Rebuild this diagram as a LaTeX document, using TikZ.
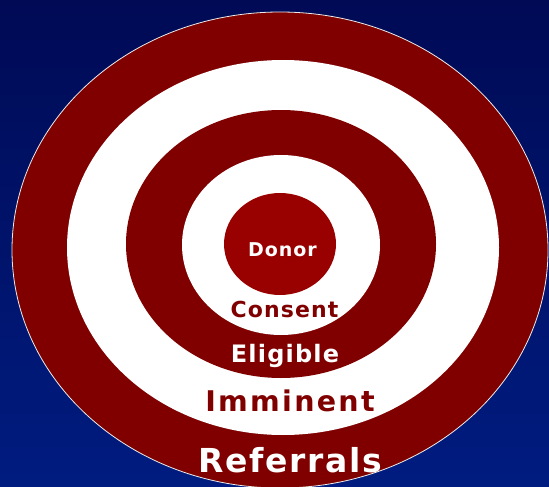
\documentclass[tikz,border=0pt]{standalone}
\usepackage{fontspec}
\newfontfamily\lblfont{DejaVu Sans}[LetterSpace=5]
\definecolor{bgtop}{RGB}{0,10,85}
\definecolor{bgbot}{RGB}{0,28,128}
\definecolor{ringred}{RGB}{128,0,0}
\definecolor{donorred}{RGB}{153,0,0}
\tikzset{
  lbl/.style={anchor=base, inner sep=0pt, font=\lblfont\bfseries},
}
\begin{document}
\begin{tikzpicture}[x=1pt,y=-1pt]
\useasboundingbox (0,0) rectangle (549,487);
\shade[top color=bgtop, bottom color=bgbot] (0,0) rectangle (549,487);
% rings
\fill[ringred, draw=white!85!gray, line width=0.8pt] (280,250) ellipse [x radius=268pt, y radius=238pt];
\fill[white] (283,247.5) ellipse [x radius=216pt, y radius=187.5pt];
\fill[ringred] (281,244) ellipse [x radius=155pt, y radius=134pt];
\fill[white] (281,245) ellipse [x radius=99pt, y radius=90pt];
\fill[donorred] (280,244) ellipse [x radius=56pt, y radius=51pt];
% labels
\node[lbl, text=white, font=\lblfont\bfseries\fontsize{19}{21}\selectfont] (donor) at (282.5,256) {Donor};
\node[lbl, text=ringred, font=\lblfont\bfseries\fontsize{22}{24}\selectfont] (consent) at (284.5,317) {Consent};
\node[lbl, text=white, font=\lblfont\bfseries\fontsize{24}{26}\selectfont] (eligible) at (285,362) {Eligible};
\node[lbl, text=ringred, font=\lblfont\bfseries\fontsize{28.5}{30}\selectfont\addfontfeatures{LetterSpace=8}] (imminent) at (290,411) {Imminent};
\node[lbl, text=white, font=\lblfont\bfseries\fontsize{33}{35}\selectfont] (referrals) at (290,472) {Referrals};
\end{tikzpicture}
\end{document}
